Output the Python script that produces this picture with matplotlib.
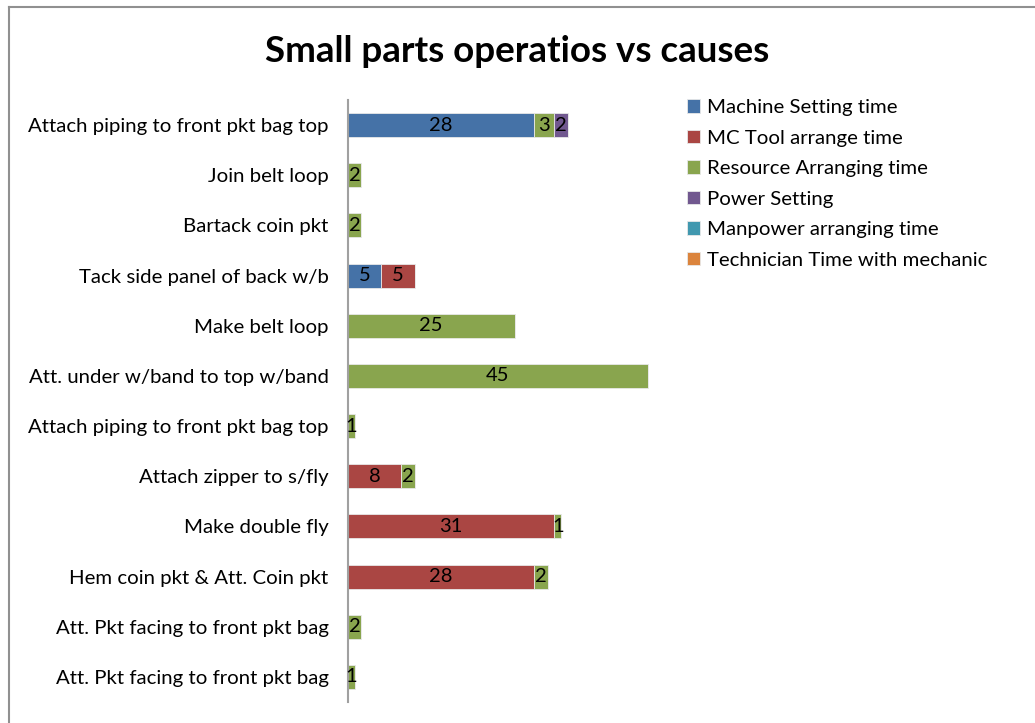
import matplotlib.pyplot as plt
import numpy as np

plt.rcParams['font.family'] = ['Lato', 'DejaVu Sans']

ops = ["Attach piping to front pkt bag top", "Join belt loop", "Bartack coin pkt",
       "Tack side panel of back w/b", "Make belt loop", "Att. under w/band to top w/band",
       "Attach piping to front pkt bag top", "Attach zipper to s/fly", "Make double fly",
       "Hem coin pkt & Att. Coin pkt", "Att. Pkt facing to front pkt bag",
       "Att. Pkt facing to front pkt bag"]
causes = ["Machine Setting time", "MC Tool arrange time", "Resource Arranging time",
          "Power Setting", "Manpower arranging time", "Technician Time with mechanic"]
machine = [28, 0, 0, 5, 0, 0, 0, 0, 0, 0, 0, 0]
mc_tool = [0, 0, 0, 5, 0, 0, 0, 8, 31, 28, 0, 0]
resource = [3, 2, 2, 0, 25, 45, 1, 2, 1, 2, 2, 1]
power = [2, 0, 0, 0, 0, 0, 0, 0, 0, 0, 0, 0]
manpower = [0] * 12
technician = [0] * 12
colors = ["#4572A7", "#AA4643", "#89A54E", "#71588F", "#4198AF", "#DB843D"]

series = [machine, mc_tool, resource, power, manpower, technician]

fig = plt.figure(figsize=(10.35, 7.23), dpi=100)
ax = fig.add_axes([348 / 1035, 21 / 723, 333 / 1035, 602 / 723])

y = np.arange(len(ops))
left = np.zeros(len(ops))
for vals, name, col in zip(series, causes, colors):
    vals = np.array(vals, dtype=float)
    bars = ax.barh(y, vals, left=left, height=0.48, color=col, label=name,
                   edgecolor="#e8e8e8", linewidth=0.6)
    for b, v in zip(bars, vals):
        if v > 0:
            ax.text(b.get_x() + b.get_width() / 2, b.get_y() + b.get_height() / 2,
                    "%d" % v, ha="center", va="center", fontsize=14.5, color="black")
    left += vals

ax.set_ylim(len(ops) - 0.5, -0.5)
ax.set_xlim(0, 50)
ax.set_yticks(y)
ax.set_yticklabels(ops, fontsize=14.7)
ax.tick_params(axis="y", length=0, pad=14)
ax.set_xticks([])
for s in ["top", "right", "bottom"]:
    ax.spines[s].set_visible(False)
ax.spines["left"].set_color("#a0a0a0")
ax.spines["left"].set_linewidth(1.5)

fig.text(0.5, 1 - 52 / 723, "Small parts operatios vs causes", ha="center", va="center",
         fontsize=26.5, fontweight="bold")

fig.legend(loc="upper left", bbox_to_anchor=(679 / 1035, 1 - 91 / 723), frameon=False,
           fontsize=14.7, handlelength=0.65, handleheight=0.65, handletextpad=0.3,
           labelspacing=0.66, borderaxespad=0)

# chart border
fig.add_artist(plt.Line2D([9 / 1035, 1], [1 - 7 / 723, 1 - 7 / 723], color="#909090", lw=1.5))
fig.add_artist(plt.Line2D([9 / 1035, 9 / 1035], [0, 1 - 7 / 723], color="#909090", lw=1.5))

fig.savefig("out.png", dpi=100)
